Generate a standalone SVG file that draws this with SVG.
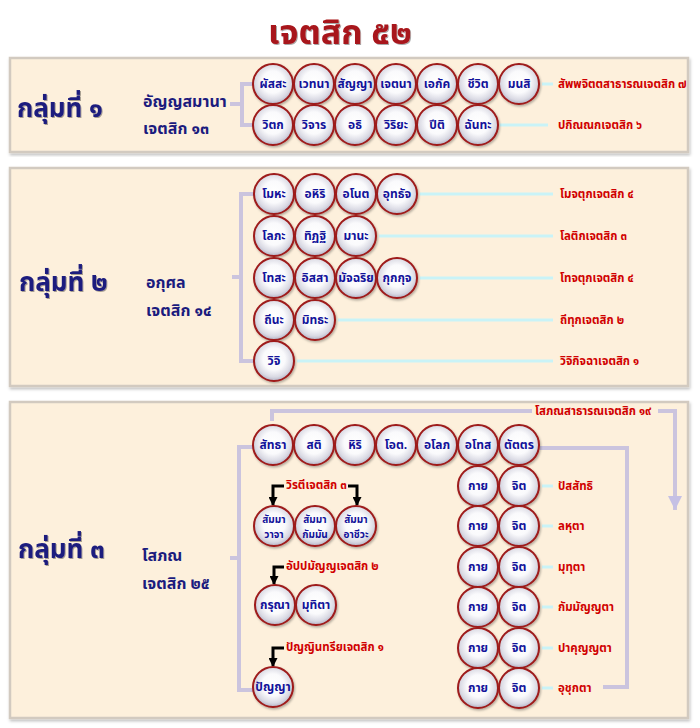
<svg xmlns="http://www.w3.org/2000/svg" width="700" height="728" viewBox="0 0 700 728">
<style>
text{font-family:"Noto Sans Thai",Tahoma,"DejaVu Sans","Noto Sans",sans-serif;font-weight:bold}
.title{font-size:34px;fill:#a8141a;text-anchor:middle}
.grp{font-size:26px;fill:#1b1b7e}
.sub{font-size:16px;fill:#1b1b7e}
.t{font-size:12px;fill:#12129a;text-anchor:middle;dominant-baseline:central}
.t2{font-size:10px;fill:#12129a;text-anchor:middle}
.lab{font-size:11.5px;fill:#d00000}
.c{fill:url(#cg);stroke:#9e1a1a;stroke-width:2;filter:url(#sh)}
.panel{fill:#fdf0dc;stroke:#d2cac0;stroke-width:2.5}
.br{fill:none;stroke:#cbc4de;stroke-width:4}
.cy{fill:none;stroke:#c9f3f7;stroke-width:3}
.ar{fill:none;stroke:#000;stroke-width:3}
</style>
<defs>
<radialGradient id="cg" cx="50%" cy="45%" r="55%">
<stop offset="0" stop-color="#ffffff"/>
<stop offset="0.5" stop-color="#fafafc"/>
<stop offset="0.82" stop-color="#d9d9e3"/>
<stop offset="1" stop-color="#b3b3c6"/>
</radialGradient>
<filter id="sh" x="-20%" y="-20%" width="150%" height="150%">
<feDropShadow dx="1" dy="1.5" stdDeviation="1" flood-color="#000" flood-opacity="0.3"/>
</filter>
<filter id="ts" x="-5%" y="-20%" width="110%" height="150%">
<feDropShadow dx="1" dy="1" stdDeviation="0.6" flood-color="#000" flood-opacity="0.35"/>
</filter>
<filter id="ps" x="-5%" y="-5%" width="110%" height="110%">
<feDropShadow dx="1" dy="2" stdDeviation="1.5" flood-color="#000" flood-opacity="0.25"/>
</filter>
<marker id="ah" viewBox="0 0 10 10" refX="9" refY="5" markerWidth="10" markerHeight="9" markerUnits="userSpaceOnUse" orient="auto">
<path d="M0,0 L10,5 L0,10 Z" fill="#000"/>
</marker>
<marker id="lav" viewBox="0 0 10 10" refX="5" refY="10" markerWidth="14" markerHeight="18" markerUnits="userSpaceOnUse">
<path d="M0,0 L10,0 L5,10 Z" fill="#c5c0e4"/>
</marker>
</defs>

<text class="title" x="340" y="44" filter="url(#ts)">เจตสิก ๕๒</text>

<g id="panel1">
<rect class="panel" x="10" y="58" width="678" height="94" filter="url(#ps)"/>
<text class="grp" x="17" y="117" filter="url(#ts)">กลุ่มที่ ๑</text>
<text class="sub" x="143" y="107">อัญญสมานา</text>
<text class="sub" x="143" y="134">เจตสิก ๑๓</text>
</g>
<g id="panel2">
<rect class="panel" x="10" y="168" width="678" height="218" filter="url(#ps)"/>
<text class="grp" x="19" y="291" filter="url(#ts)">กลุ่มที่ ๒</text>
<text class="sub" x="146" y="288">อกุศล</text>
<text class="sub" x="146" y="316">เจตสิก ๑๔</text>
</g>
<g id="panel3">
<rect class="panel" x="10" y="402" width="678" height="316" filter="url(#ps)"/>
<text class="grp" x="18" y="558" filter="url(#ts)">กลุ่มที่ ๓</text>
<text class="sub" x="142" y="561">โสภณ</text>
<text class="sub" x="142" y="589">เจตสิก ๒๕</text>
</g>

<g id="connectors">
<path class="br" d="M253,84 H242 V125 H253 M230,104 H242"/>
<path class="cy" d="M542,84 H553 M500,125 H548"/>
<path class="br" d="M255,194 H241 V361 H255 M232,277 H241"/>
<path class="cy" d="M420,194 H553 M379,236 H553 M420,278 H553 M338,320 H553 M297,361 H553"/>
<path class="br" d="M253,447 H239 V690 H253 M230,558 H239"/>
<path class="br" d="M272,421 V411 H532"/>
<path class="br" d="M658,411 H675 V510" marker-end="url(#lav)"/>
<path class="br" d="M540,448 H627 V687 H603"/>
<path class="cy" d="M542,486 H553 M542,526 H553 M542,567 H553 M542,607 H553 M542,648 H553 M542,688 H553"/>
<path class="ar" d="M284,486 H273 V505" marker-end="url(#ah)"/>
<path class="ar" d="M348,486 H357 V505" marker-end="url(#ah)"/>
<path class="ar" d="M284,567 H274 V584" marker-end="url(#ah)"/>
<path class="ar" d="M284,648 H273 V666" marker-end="url(#ah)"/>
</g>

<g id="labels">
<text class="lab" x="558" y="88">สัพพจิตตสาธารณเจตสิก ๗</text>
<text class="lab" x="558" y="129">ปกิณณกเจตสิก ๖</text>
<text class="lab" x="560" y="198">โมจตุกเจตสิก ๔</text>
<text class="lab" x="560" y="240">โลติกเจตสิก ๓</text>
<text class="lab" x="560" y="282">โทจตุกเจตสิก ๔</text>
<text class="lab" x="560" y="324">ถีทุกเจตสิก ๒</text>
<text class="lab" x="560" y="365">วิจิกิจฉาเจตสิก ๑</text>
<text class="lab" x="535" y="415">โสภณสาธารณเจตสิก ๑๙</text>
<text class="lab" x="558" y="490">ปัสสัทธิ</text>
<text class="lab" x="558" y="530">ลหุตา</text>
<text class="lab" x="558" y="571">มุทุตา</text>
<text class="lab" x="558" y="611">กัมมัญญตา</text>
<text class="lab" x="558" y="652">ปาคุญญตา</text>
<text class="lab" x="558" y="692">อุชุกตา</text>
<text class="lab" x="286" y="489">วิรตีเจตสิก ๓</text>
<text class="lab" x="286" y="570">อัปปมัญญเจตสิก ๒</text>
<text class="lab" x="286" y="651">ปัญญินทรียเจตสิก ๑</text>
</g>

<g id="n-phassa"><circle class="c" cx="273" cy="84" r="20"/><text class="t" x="273" y="84">ผัสสะ</text></g>
<g id="n-vedana"><circle class="c" cx="314" cy="84" r="20"/><text class="t" x="314" y="84">เวทนา</text></g>
<g id="n-sanna"><circle class="c" cx="355" cy="84" r="20"/><text class="t" x="355" y="84">สัญญา</text></g>
<g id="n-cetana"><circle class="c" cx="396" cy="84" r="20"/><text class="t" x="396" y="84">เจตนา</text></g>
<g id="n-ekagga"><circle class="c" cx="437" cy="84" r="20"/><text class="t" x="437" y="84">เอกัค</text></g>
<g id="n-jivita"><circle class="c" cx="478" cy="84" r="20"/><text class="t" x="478" y="84">ชีวิต</text></g>
<g id="n-manasi"><circle class="c" cx="519" cy="84" r="20"/><text class="t" x="519" y="84">มนสิ</text></g>
<g id="n-vitakka"><circle class="c" cx="273" cy="125" r="20"/><text class="t" x="273" y="125">วิตก</text></g>
<g id="n-vicara"><circle class="c" cx="314" cy="125" r="20"/><text class="t" x="314" y="125">วิจาร</text></g>
<g id="n-adhi"><circle class="c" cx="355" cy="125" r="20"/><text class="t" x="355" y="125">อธิ</text></g>
<g id="n-viriya"><circle class="c" cx="396" cy="125" r="20"/><text class="t" x="396" y="125">วิริยะ</text></g>
<g id="n-piti"><circle class="c" cx="437" cy="125" r="20"/><text class="t" x="437" y="125">ปีติ</text></g>
<g id="n-chanda"><circle class="c" cx="478" cy="125" r="20"/><text class="t" x="478" y="125">ฉันทะ</text></g>

<g id="n-moha"><circle class="c" cx="274" cy="194" r="20"/><text class="t" x="274" y="194">โมหะ</text></g>
<g id="n-ahiri"><circle class="c" cx="315" cy="194" r="20"/><text class="t" x="315" y="194">อหิริ</text></g>
<g id="n-anotta"><circle class="c" cx="356" cy="194" r="20"/><text class="t" x="356" y="194">อโนต</text></g>
<g id="n-uddhacca"><circle class="c" cx="397" cy="194" r="20"/><text class="t" x="397" y="194">อุทธัจ</text></g>
<g id="n-lobha"><circle class="c" cx="274" cy="236" r="20"/><text class="t" x="274" y="236">โลภะ</text></g>
<g id="n-ditthi"><circle class="c" cx="315" cy="236" r="20"/><text class="t" x="315" y="236">ทิฏฐิ</text></g>
<g id="n-mana"><circle class="c" cx="356" cy="236" r="20"/><text class="t" x="356" y="236">มานะ</text></g>
<g id="n-dosa"><circle class="c" cx="274" cy="278" r="20"/><text class="t" x="274" y="278">โทสะ</text></g>
<g id="n-issa"><circle class="c" cx="315" cy="278" r="20"/><text class="t" x="315" y="278">อิสสา</text></g>
<g id="n-macchariya"><circle class="c" cx="356" cy="278" r="20"/><text class="t" x="356" y="278">มัจฉริย</text></g>
<g id="n-kukkucca"><circle class="c" cx="397" cy="278" r="20"/><text class="t" x="397" y="278">กุกกุจ</text></g>
<g id="n-thina"><circle class="c" cx="274" cy="320" r="20"/><text class="t" x="274" y="320">ถีนะ</text></g>
<g id="n-middha"><circle class="c" cx="315" cy="320" r="20"/><text class="t" x="315" y="320">มิทธะ</text></g>
<g id="n-vici"><circle class="c" cx="274" cy="361" r="20"/><text class="t" x="274" y="361">วิจิ</text></g>

<g id="n-saddha"><circle class="c" cx="273" cy="445" r="20"/><text class="t" x="273" y="445">สัทธา</text></g>
<g id="n-sati"><circle class="c" cx="314" cy="445" r="20"/><text class="t" x="314" y="445">สติ</text></g>
<g id="n-hiri"><circle class="c" cx="355" cy="445" r="20"/><text class="t" x="355" y="445">หิริ</text></g>
<g id="n-otta"><circle class="c" cx="396" cy="445" r="20"/><text class="t" x="396" y="445">โอต.</text></g>
<g id="n-alobha"><circle class="c" cx="437" cy="445" r="20"/><text class="t" x="437" y="445">อโลภ</text></g>
<g id="n-adosa"><circle class="c" cx="478" cy="445" r="20"/><text class="t" x="478" y="445">อโทส</text></g>
<g id="n-tatra"><circle class="c" cx="519" cy="445" r="20"/><text class="t" x="519" y="445">ตัตตร</text></g>

<g id="n-kaya1"><circle class="c" cx="478" cy="486" r="20"/><text class="t" x="478" y="486">กาย</text></g>
<g id="n-citta1"><circle class="c" cx="519" cy="486" r="20"/><text class="t" x="519" y="486">จิต</text></g>
<g id="n-kaya2"><circle class="c" cx="478" cy="526" r="20"/><text class="t" x="478" y="526">กาย</text></g>
<g id="n-citta2"><circle class="c" cx="519" cy="526" r="20"/><text class="t" x="519" y="526">จิต</text></g>
<g id="n-kaya3"><circle class="c" cx="478" cy="567" r="20"/><text class="t" x="478" y="567">กาย</text></g>
<g id="n-citta3"><circle class="c" cx="519" cy="567" r="20"/><text class="t" x="519" y="567">จิต</text></g>
<g id="n-kaya4"><circle class="c" cx="478" cy="607" r="20"/><text class="t" x="478" y="607">กาย</text></g>
<g id="n-citta4"><circle class="c" cx="519" cy="607" r="20"/><text class="t" x="519" y="607">จิต</text></g>
<g id="n-kaya5"><circle class="c" cx="478" cy="648" r="20"/><text class="t" x="478" y="648">กาย</text></g>
<g id="n-citta5"><circle class="c" cx="519" cy="648" r="20"/><text class="t" x="519" y="648">จิต</text></g>
<g id="n-kaya6"><circle class="c" cx="478" cy="688" r="20"/><text class="t" x="478" y="688">กาย</text></g>
<g id="n-citta6"><circle class="c" cx="519" cy="688" r="20"/><text class="t" x="519" y="688">จิต</text></g>

<g id="n-vaca"><circle class="c" cx="274" cy="526" r="20"/><text class="t2" x="274" y="523">สัมมา</text><text class="t2" x="274" y="538">วาจา</text></g>
<g id="n-kammanta"><circle class="c" cx="315" cy="526" r="20"/><text class="t2" x="315" y="523">สัมมา</text><text class="t2" x="315" y="538">กัมมัน</text></g>
<g id="n-ajiva"><circle class="c" cx="356" cy="526" r="20"/><text class="t2" x="356" y="523">สัมมา</text><text class="t2" x="356" y="538">อาชีวะ</text></g>
<g id="n-karuna"><circle class="c" cx="275" cy="605" r="20"/><text class="t" x="275" y="605">กรุณา</text></g>
<g id="n-mudita"><circle class="c" cx="316" cy="605" r="20"/><text class="t" x="316" y="605">มุทิตา</text></g>
<g id="n-panna"><circle class="c" cx="273" cy="687" r="20"/><text class="t" x="273" y="687">ปัญญา</text></g>
</svg>
